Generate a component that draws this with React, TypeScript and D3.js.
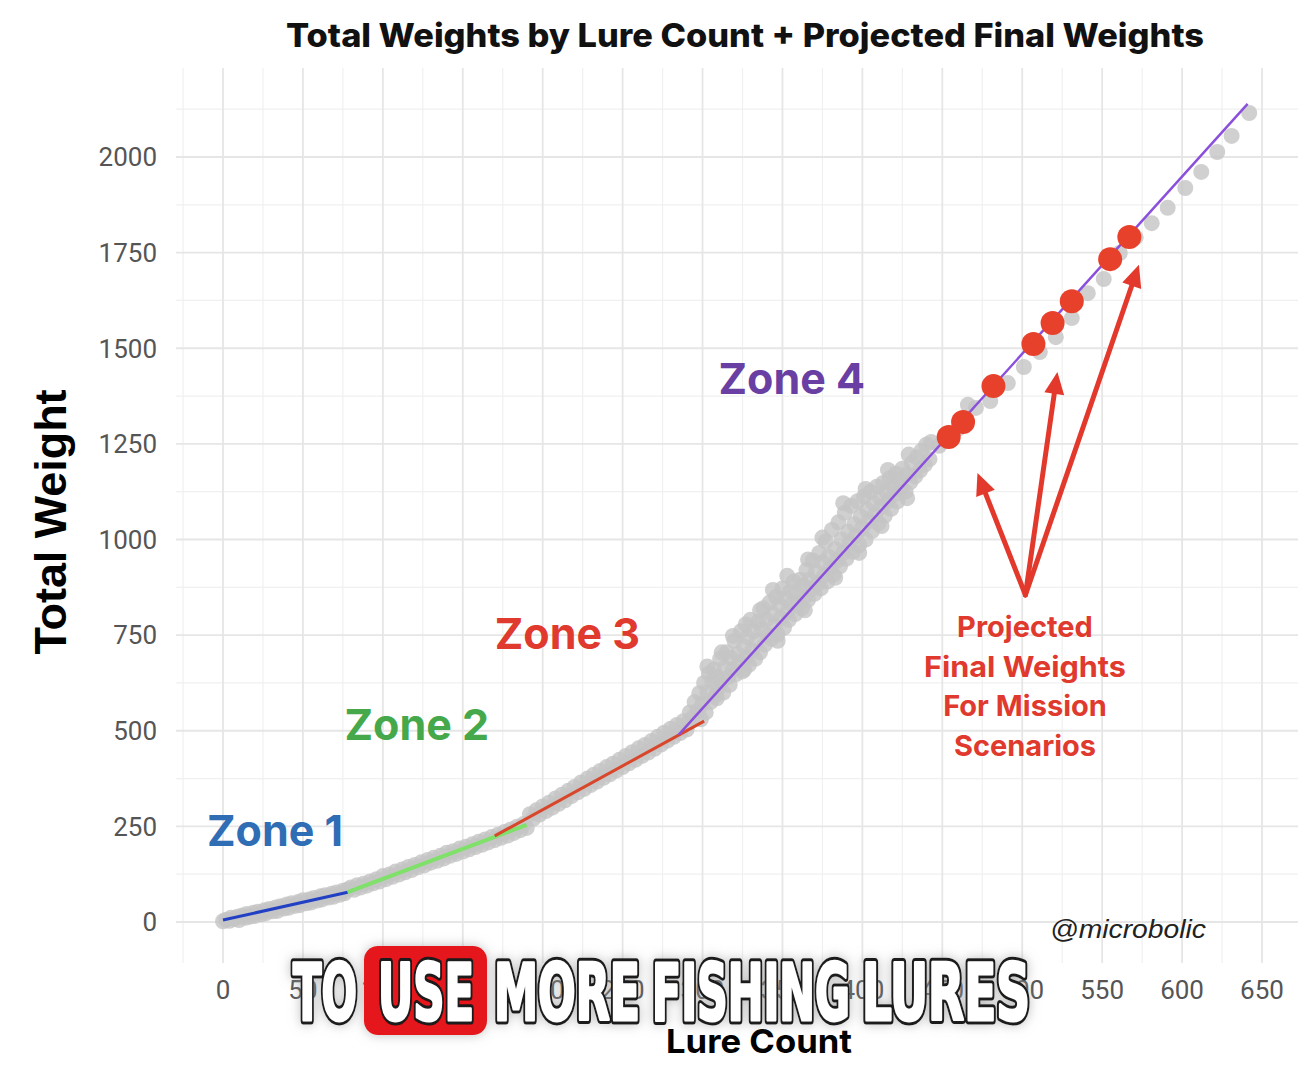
import React, { useEffect } from "react";
import * as d3 from "d3";

const W = 1298;
const H = 1080;

const xTicks = [0, 50, 100, 150, 200, 250, 300, 350, 400, 450, 500, 550, 600, 650];
const yTicks = [0, 250, 500, 750, 1000, 1250, 1500, 1750, 2000];

const zone1Points: [number, number][] = [
  [0,2],[2,6],[4,3],[5,11],[7,8],[9,14],[10,5],[12,17],[14,11],[15,21],[17,14],[19,24],[20,16],[22,27],[24,20],[26,31],[27,23],[29,34],[31,28],[33,38],[34,29],[36,41],[38,35],[40,46],[41,37],[43,49],[45,42],[47,52],[48,44],[50,57],[52,49],[54,59],[55,51],[57,63],[59,56],[61,67],[62,59],[64,70],[66,64],[68,74],[69,66],[71,77],[73,71],[75,82],[76,75],[78,85]
];

const zone2Points: [number, number][] = [
  [80,90],[82,84],[84,96],[86,90],[88,100],[90,95],[92,106],[94,101],[96,112],[98,106],[100,120],[102,112],[104,124],[106,118],[108,132],[110,124],[112,137],[114,130],[116,144],[118,136],[120,149],[122,143],[124,156],[126,148],[128,162],[130,155],[132,168],[134,160],[136,173],[138,166],[140,181],[142,173],[144,185],[146,178],[148,192],[150,184],[152,197],[154,190],[156,203],[158,196],[160,210],[162,202],[164,216],[166,208],[168,222],[170,214],[172,228],[174,220],[176,235],[178,226],[180,242],[182,233],[184,249],[186,240],[188,256],[190,246]
];

const zone3Points: [number, number][] = [
  [192,282],[194,270],[196,292],[198,281],[200,302],[202,290],[204,312],[206,299],[208,323],[210,309],[212,333],[214,318],[216,343],[218,329],[220,353],[222,339],[224,365],[226,348],[228,375],[230,358],[232,385],[234,367],[236,395],[238,377],[240,405],[242,386],[244,414],[246,396],[248,424],[250,405],[252,434],[254,415],[256,444],[258,424],[260,454],[262,434],[264,463],[266,443],[268,473],[270,453],[272,484],[274,464],[276,495],[278,474],[280,505],[282,484],[284,515],[286,494],[288,525],[290,503]
];

const zone4Points: [number, number][] = [
  [291,520],[292,548],[294,535],[295,575],[297,552],[298,598],[299,530],[300,570],[301,625],[302,548],[303,600],[304,650],[305,575],[306,628],[307,660],[308,592],[309,642],[310,612],[311,688],[312,630],[313,600],[314,665],[315,705],[316,640],[317,620],[318,690],[319,660],[320,735],[321,648],[322,700],[323,680],[324,760],[325,655],[326,720],[327,690],[328,745],[329,672],[330,790],[331,710],[332,760],[333,688],[334,735],[335,785],[336,705],[337,765],[338,820],[339,725],[340,790],[341,750],[342,835],[343,740],[344,805],[345,775],[346,850],[347,752],[348,830],[349,795],[350,872],[351,770],[352,845],[353,810],[354,790],[355,865],[356,830],[357,890],[358,805],[359,860],[360,835],[361,895],[362,820],[363,880],[364,850],[365,920],[366,842],[367,895],[368,870],[369,945],[370,858],[371,915],[372,885],[373,965],[374,872],[375,940],[376,905],[377,995],[378,890],[379,955],[380,925],[381,1025],[382,908],[383,975],[384,945],[385,1045],[386,930],[387,1000],[388,965],[389,1070],[390,950],[391,1020],[392,990],[393,1088],[394,968],[395,1040],[396,1010],[397,1100],[398,985],[399,1060],[400,1030],[401,1112],[402,1000],[403,1078],[404,1048],[405,1125],[406,1022],[407,1095],[408,1065],[409,1138],[410,1042],[411,1110],[412,1085],[413,1148],[414,1062],[415,1125],[416,1100],[417,1160],[418,1080],[419,1140],[420,1118],[421,1172],[422,1100],[423,1155],[424,1135],[425,1185],[427,1125],[428,1170],[430,1150],[431,1200],[433,1165],[434,1215],[436,1180],[437,1232],[439,1195],[440,1248],[442,1210],[443,1255],
  [303,668],[312,705],[319,748],[327,778],[336,815],[344,868],[353,905],[366,948],[375,1005],[388,1095],[402,1132],[416,1182],[429,1222],
  [309,585],[326,660],[347,735],[364,815],[383,900],[398,965],[412,1035],[428,1108]
];

const upperPoints: [number, number][] = [
  [448,1245],[454,1262],[460,1290],[466,1352],[471,1344],[480,1362],[491,1409],[501,1451],[511,1490],[521,1529],[531,1579],[541,1644],[551,1681],[561,1749],[571,1790],[581,1827],[591,1867],[602,1919],[612,1961],[622,2013],[631,2055],[642,2115]
];

const projectedPoints: [number, number][] = [
  [454,1268],[463,1307],[482,1401],[507,1511],[519,1566],[531,1623],[555,1733],[567,1791]
];

const zoneFits = [
  { name: "Zone 1", from: [0, 5], to: [78, 78], color: "#2140c4", width: 3 },
  { name: "Zone 2", from: [78, 78], to: [190, 254], color: "#7fe06a", width: 4 },
  { name: "Zone 3", from: [170, 225], to: [301, 525], color: "#d8472b", width: 3 },
  { name: "Zone 4", from: [285, 489], to: [641, 2139], color: "#8a50dc", width: 2.5 },
];

const zoneLabels = [
  { text: "Zone 1", at: [-10, 240], color: "#2f6db5" },
  { text: "Zone 2", at: [76, 515], color: "#45a84b" },
  { text: "Zone 3", at: [170, 755], color: "#e0392d" },
  { text: "Zone 4", at: [310, 1420], color: "#6a3fa3" },
];

const arrowApex: [number, number] = [502, 855];
const arrowTips: [number, number][] = [[472, 1174], [522, 1438], [573, 1718]];

const noteLines = ["Projected", "Final Weights", "For Mission", "Scenarios"];

const captionWords = [
  { text: "TO", x0: 293, x1: 357 },
  { text: "USE", x0: 378, x1: 474 },
  { text: "MORE", x0: 494, x1: 640 },
  { text: "FISHING", x0: 652, x1: 850 },
  { text: "LURES", x0: 862, x1: 1030 },
];

export default function App() {
  useEffect(() => {
    document.body.style.margin = "0";
  }, []);

  const x = d3.scaleLinear().domain([0, 650]).range([223, 1262]);
  const y = d3.scaleLinear().domain([0, 2000]).range([922, 157]);

  const panelLeft = 176;
  const panelRight = W;
  const panelTop = 68;
  const panelBottom = 963;

  const xMinor = d3.range(-25, 700, 50).filter((v) => x(v) >= panelLeft && x(v) <= panelRight);
  const yMinor = d3.range(125, 2300, 250).filter((v) => y(v) >= panelTop && y(v) <= panelBottom);

  const allGray = [...zone1Points, ...zone2Points, ...zone3Points, ...zone4Points, ...upperPoints];

  const arrowColor = "#e2392c";
  const arrows = arrowTips.map((tip, i) => {
    const ax = x(arrowApex[0]);
    const ay = y(arrowApex[1]);
    const tx = x(tip[0]);
    const ty = y(tip[1]);
    const dx = tx - ax;
    const dy = ty - ay;
    const len = Math.sqrt(dx * dx + dy * dy);
    const ux = dx / len;
    const uy = dy / len;
    const headLen = 22;
    const headW = 10;
    const bx = tx - ux * headLen;
    const by = ty - uy * headLen;
    const px = -uy;
    const py = ux;
    const head = `M${tx},${ty} L${bx + px * headW},${by + py * headW} L${bx - px * headW},${by - py * headW} Z`;
    return (
      <g key={i}>
        <line x1={ax} y1={ay} x2={bx + ux * 2} y2={by + uy * 2} stroke={arrowColor} strokeWidth={5} strokeLinecap="round" />
        <path d={head} fill={arrowColor} />
      </g>
    );
  });

  const capFont = "'Liberation Sans Narrow', 'DejaVu Sans Condensed', 'Liberation Sans', sans-serif";

  return (
    <svg width={W} height={H} style={{ position: "absolute", left: 0, top: 0, background: "#fff" }}>
      <defs>
        <filter id="glow" x="-20%" y="-40%" width="140%" height="180%">
          <feGaussianBlur in="SourceAlpha" stdDeviation="6" />
          <feColorMatrix type="matrix" values="0 0 0 0 0.3  0 0 0 0 0.3  0 0 0 0 0.3  0 0 0 0.6 0" />
          <feMerge>
            <feMergeNode />
            <feMergeNode in="SourceGraphic" />
          </feMerge>
        </filter>
      </defs>
      <rect x={0} y={0} width={W} height={H} fill="#ffffff" />

      {/* grid */}
      <g>
        {xMinor.map((v) => (
          <line key={"xm" + v} x1={x(v)} x2={x(v)} y1={panelTop} y2={panelBottom} stroke="#f0f0f0" strokeWidth={1.2} />
        ))}
        {yMinor.map((v) => (
          <line key={"ym" + v} x1={panelLeft} x2={panelRight} y1={y(v)} y2={y(v)} stroke="#f0f0f0" strokeWidth={1.2} />
        ))}
        {xTicks.map((v) => (
          <line key={"xM" + v} x1={x(v)} x2={x(v)} y1={panelTop} y2={panelBottom} stroke="#e6e6e6" strokeWidth={1.8} />
        ))}
        {yTicks.map((v) => (
          <line key={"yM" + v} x1={panelLeft} x2={panelRight} y1={y(v)} y2={y(v)} stroke="#e6e6e6" strokeWidth={1.8} />
        ))}
      </g>

      {/* gray observed points */}
      <g>
        {allGray.map((d, i) => (
          <circle key={i} cx={x(d[0])} cy={y(d[1])} r={8} fill="#c4c4c4" fillOpacity={0.8} />
        ))}
      </g>

      {/* zone fits */}
      <g>
        {zoneFits.map((z) => (
          <line
            key={z.name}
            x1={x(z.from[0])}
            y1={y(z.from[1])}
            x2={x(z.to[0])}
            y2={y(z.to[1])}
            stroke={z.color}
            strokeWidth={z.width}
          />
        ))}
      </g>

      {/* projected points */}
      <g>
        {projectedPoints.map((d, i) => (
          <circle key={i} cx={x(d[0])} cy={y(d[1])} r={12} fill="#e8412b" />
        ))}
      </g>

      {arrows}

      {/* zone labels */}
      <g fontFamily="Inter, 'Open Sans', sans-serif" fontWeight={700} fontSize={43}>
        {zoneLabels.map((z) => (
          <text key={z.text} x={x(z.at[0])} y={y(z.at[1])} dy="0.36em" fill={z.color}>
            {z.text}
          </text>
        ))}
      </g>

      {/* note */}
      <g fontFamily="Inter, 'Open Sans', sans-serif" fontWeight={700} fontSize={29} fill="#e0392d" textAnchor="middle">
        {noteLines.map((t, i) => (
          <text key={t} x={1025} y={637 + i * 39.7} textLength={t === "Final Weights" ? 202 : undefined} lengthAdjust="spacingAndGlyphs">
            {t}
          </text>
        ))}
      </g>

      {/* axes tick labels */}
      <g fontFamily="Roboto, 'Liberation Sans', sans-serif" fontSize={26} fill="#555555">
        {yTicks.map((v) => (
          <text key={"yt" + v} x={157} y={y(v)} dy="0.36em" textAnchor="end">
            {v}
          </text>
        ))}
        {xTicks.map((v) => (
          <text key={"xt" + v} x={x(v)} y={999} textAnchor="middle">
            {v}
          </text>
        ))}
      </g>

      {/* title */}
      <text
        x={745}
        y={47}
        textAnchor="middle"
        fontFamily="Inter, 'Open Sans', sans-serif"
        fontWeight={800}
        fontSize={33}
        fill="#111"
        textLength={918}
        lengthAdjust="spacingAndGlyphs"
      >
        Total Weights by Lure Count + Projected Final Weights
      </text>

      {/* y title */}
      <text
        transform={`translate(66,522) rotate(-90)`}
        textAnchor="middle"
        fontFamily="'Liberation Sans', Arial, sans-serif"
        fontWeight={700}
        fontSize={44}
        fill="#000"
        textLength={265}
        lengthAdjust="spacingAndGlyphs"
      >
        Total Weight
      </text>

      {/* x title */}
      <text
        x={759}
        y={1053}
        textAnchor="middle"
        fontFamily="Inter, 'Open Sans', sans-serif"
        fontWeight={700}
        fontSize={33}
        fill="#000"
        textLength={186}
        lengthAdjust="spacingAndGlyphs"
      >
        Lure Count
      </text>

      {/* watermark */}
      <text
        x={1050}
        y={938}
        fontFamily="'Liberation Sans', Arial, sans-serif"
        fontStyle="italic"
        fontSize={25}
        fill="#222"
        textLength={156}
        lengthAdjust="spacingAndGlyphs"
      >
        @microbolic
      </text>

      {/* caption overlay */}
      <g filter="url(#glow)">
        <rect x={364} y={946} width={123} height={89} rx={14} fill="#e5121a" />
        {captionWords.map((w) => (
          <text
            key={"s" + w.text}
            x={w.x0}
            y={1020}
            fontFamily={capFont}
            fontWeight={700}
            fontSize={78}
            fill="#1a1a1a"
            stroke="#1a1a1a"
            strokeWidth={9}
            strokeLinejoin="round"
            textLength={w.x1 - w.x0}
            lengthAdjust="spacingAndGlyphs"
          >
            {w.text}
          </text>
        ))}
        {captionWords.map((w) => (
          <text
            key={"f" + w.text}
            x={w.x0}
            y={1020}
            fontFamily={capFont}
            fontWeight={700}
            fontSize={78}
            fill="#ffffff"
            stroke="#ffffff"
            strokeWidth={3}
            strokeLinejoin="round"
            textLength={w.x1 - w.x0}
            lengthAdjust="spacingAndGlyphs"
          >
            {w.text}
          </text>
        ))}
      </g>
    </svg>
  );
}
